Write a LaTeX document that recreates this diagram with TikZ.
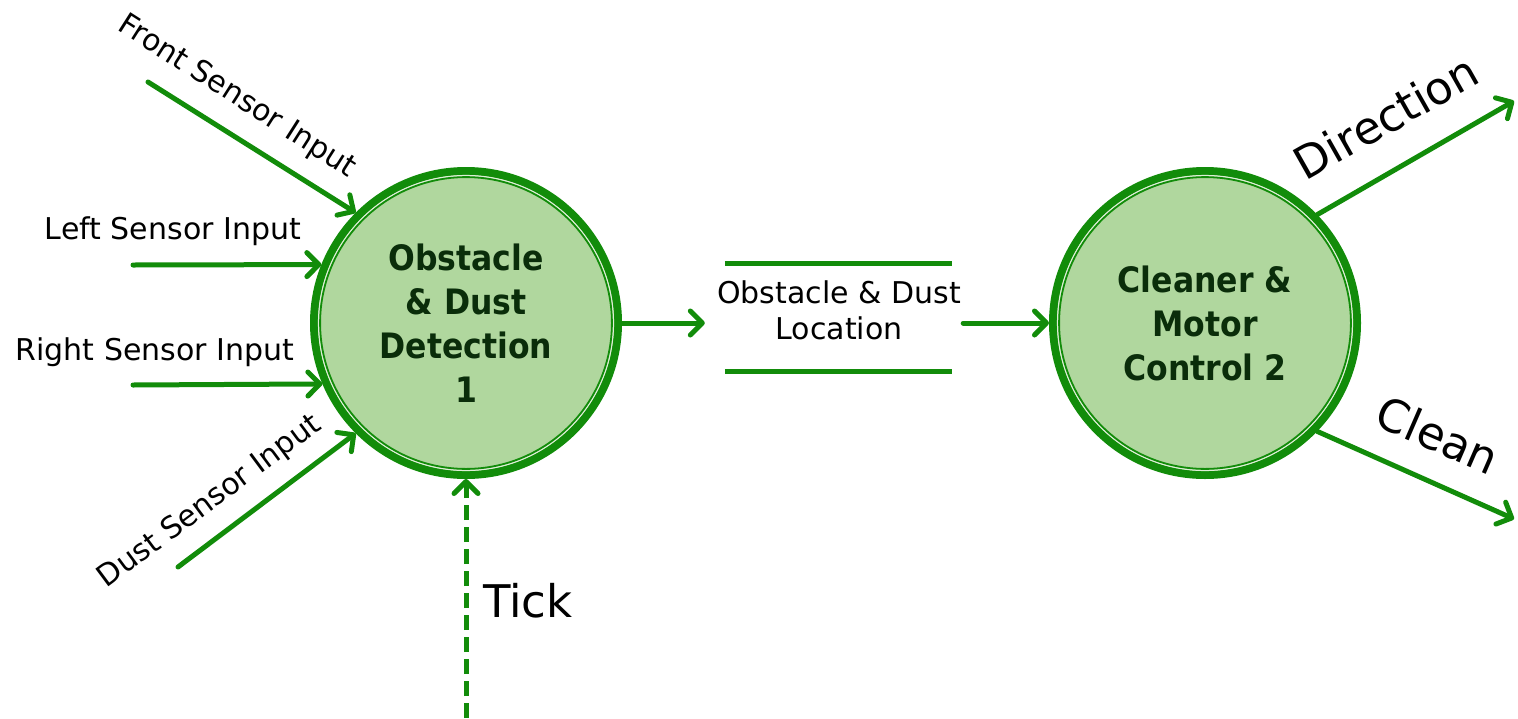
\documentclass[tikz,border=0pt]{standalone}
\usepackage{fontspec}
\setmainfont{DejaVu Sans}
\newfontfamily\procfont{DejaVu Sans Condensed}
\usetikzlibrary{arrows.meta}
\definecolor{flowgreen}{RGB}{18,140,10}
\definecolor{procfill}{RGB}{176,215,158}
\definecolor{proctext}{RGB}{10,45,10}
\begin{document}
\begin{tikzpicture}[x=1pt,y=-1pt,
  flow/.style={draw=flowgreen, line width=5pt, line cap=round,
    -{Straight Barb[length=12pt,width=24pt,line cap=round,line join=round]}},
  tickflow/.style={flow, line cap=butt, dash pattern=on 15pt off 7pt},
  process/.style={circle, draw=flowgreen, line width=8pt, fill=procfill,
    minimum size=304pt, inner sep=0pt, align=center, text=proctext,
    font=\procfont\bfseries\fontsize{35}{44}\selectfont},
  lbl/.style={font=\fontsize{30}{36}\selectfont, text=black, inner sep=0pt, align=center},
  biglbl/.style={font=\fontsize{45}{54}\selectfont, text=black, inner sep=0pt},
  storeline/.style={draw=flowgreen, line width=5pt}]

\useasboundingbox (0,0) rectangle (1518,718);

% processes
\node[process] (p1) at (466,323) {Obstacle\\\& Dust\\Detection\\1};
\node[process] (p2) at (1205,323) {Cleaner \&\\Motor\\Control 2};
\foreach \n in {p1,p2} {
  \draw[white!60!procfill, line width=1.3pt] (\n.center) circle[radius=147.4pt];
  \draw[flowgreen, line width=1.8pt] (\n.center) circle[radius=145.9pt];
}

% data store
\node[minimum width=227pt, minimum height=107pt, inner sep=0pt] (store) at (838.5,317.5) {};
\node[lbl] (storetext) at (839,310) {Obstacle \& Dust\\Location};
\draw[storeline] (store.north west) -- (store.north east);
\draw[storeline] (store.south west) -- (store.south east);

% sensor inputs
\coordinate (fs) at (148,82);
\coordinate (ls) at (133,265);
\coordinate (rs) at (133,385);
\coordinate (ds) at (178,567);
\coordinate (tk) at (466,718);
\draw[flow] (fs) -- (p1.135);
\draw[flow] (ls) -- (p1.158);
\draw[flow] (rs) -- (p1.203);
\draw[flow] (ds) -- (p1.225);
\draw[tickflow] (tk) -- (p1.south);

% flows between processes
\draw[flow, shorten >=20pt] (p1.east) -- (store.west |- p1.east);
\draw[flow, shorten <=11pt] (store.east |- p2.west) -- (p2.west);

% outputs
\coordinate (dir) at (1514,101);
\coordinate (cln) at (1514,519);
\draw[flow] (p2.44) -- (dir);
\draw[flow] (p2.316) -- (cln);

% labels
\node[lbl, rotate=-32.5] (fsl) at (237,97) {Front Sensor Input};
\node[lbl] (lsl) at (173,231) {Left Sensor Input};
\node[lbl] (rsl) at (155,352) {Right Sensor Input};
\node[lbl, rotate=36.6] (dsl) at (210,502) {Dust Sensor Input};
\node[biglbl] (tkl) at (528,601) {Tick};
\node[biglbl, rotate=29.5] (dirl) at (1386,117) {Direction};
\node[biglbl, rotate=-23.5] (cll) at (1438,435) {Clean};
\end{tikzpicture}
\end{document}
